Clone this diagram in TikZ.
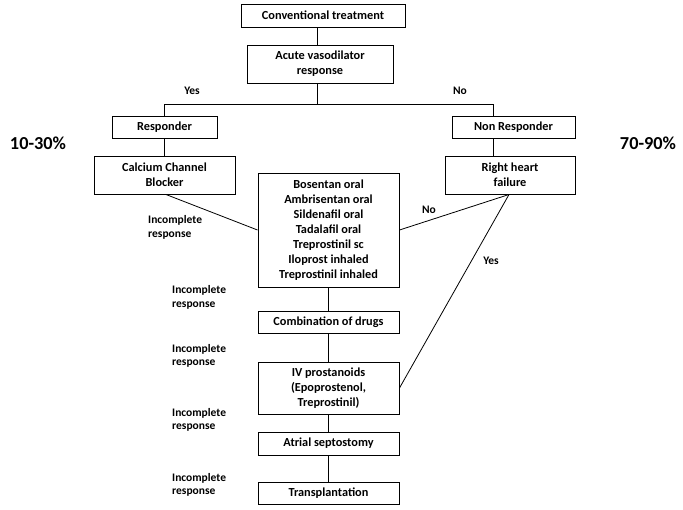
\documentclass[tikz,border=0pt]{standalone}
\usepackage{fontspec}
\setmainfont{Carlito}
\begin{document}
\begin{tikzpicture}[x=1pt,y=-1pt,
  box/.style={draw,line width=1pt,inner sep=0pt,align=center,font=\fontsize{12.3}{15}\selectfont\bfseries},
  lbl/.style={inner sep=0pt,align=left,font=\fontsize{11.5}{13.5}\selectfont\bfseries},
  pct/.style={inner sep=0pt,font=\fontsize{18.3}{20}\selectfont\bfseries},
  conn/.style={line width=0.8pt}]
\useasboundingbox (0,0) rectangle (683,509);
% boxes
\node[box,minimum width=164pt,minimum height=23pt] (conv) at (323,15.5) {Conventional treatment};
\node[box,minimum width=146pt,minimum height=38pt] (acute) at (320,64) {Acute vasodilator\\response};
\node[box,minimum width=105pt,minimum height=22pt] (resp) at (164.5,127) {Responder};
\node[box,minimum width=123pt,minimum height=22pt] (nonresp) at (513.5,127) {Non Responder};
\node[box,minimum width=141pt,minimum height=38pt] (ccb) at (164.5,175) {Calcium Channel\\Blocker};
\node[box,minimum width=130pt,minimum height=38pt] (rhf) at (510,175) {Right heart\\failure};
\node[box,minimum width=141pt,minimum height=114pt] (drugs) at (328.5,230) {Bosentan oral\\Ambrisentan oral\\Sildenafil oral\\Tadalafil oral\\Treprostinil sc\\Iloprost inhaled\\Treprostinil inhaled};
\node[box,minimum width=141pt,minimum height=22pt] (combo) at (328.5,322) {Combination of drugs};
\node[box,minimum width=141pt,minimum height=52pt] (iv) at (328.5,388) {IV prostanoids\\(Epoprostenol,\\Treprostinil)};
\node[box,minimum width=141pt,minimum height=23pt] (atrial) at (328.5,443.5) {Atrial septostomy};
\node[box,minimum width=141pt,minimum height=22pt] (transp) at (328.5,493) {Transplantation};
% labels
\node[lbl] (yes1) at (192,91) {Yes};
\node[lbl] (no1) at (460,91) {No};
\node[lbl] (no2) at (429,210) {No};
\node[lbl] (yes2) at (491,261) {Yes};
\node[lbl,anchor=west] (ir1) at (148,227.5) {Incomplete\\response};
\node[lbl,anchor=west] (ir2) at (172,297.5) {Incomplete\\response};
\node[lbl,anchor=west] (ir3) at (172,356) {Incomplete\\response};
\node[lbl,anchor=west] (ir4) at (172,420) {Incomplete\\response};
\node[lbl,anchor=west] (ir5) at (172,485) {Incomplete\\response};
\node[pct] (p1) at (38,143) {10-30\%};
\node[pct] (p2) at (648,143) {70-90\%};
% connectors
\coordinate (split) at (317,104);
\draw[conn] ([xshift=-6pt]conv.south) -- ([xshift=-3pt]acute.north);
\draw[conn] ([xshift=-3pt]acute.south) -- (split);
\draw[conn] (split) -| ([xshift=-0.5pt]resp.north);
\draw[conn] (split) -| ([xshift=-20.5pt]nonresp.north);
\draw[conn] ([xshift=-0.5pt]resp.south) -- ([xshift=-0.5pt]ccb.north);
\draw[conn] ([xshift=-20.5pt]nonresp.south) -- ([xshift=-17pt]rhf.north);
\draw[conn] ([xshift=1.5pt]ccb.south) -- (drugs.west);
\draw[conn] ([xshift=-1pt]rhf.south) -- (drugs.east);
\draw[conn] ([xshift=-1pt]rhf.south) -- (iv.east);
\draw[conn] (drugs.south) -- (combo.north);
\draw[conn] (combo.south) -- (iv.north);
\draw[conn] (iv.south) -- (atrial.north);
\draw[conn] (atrial.south) -- (transp.north);
\end{tikzpicture}
\end{document}
